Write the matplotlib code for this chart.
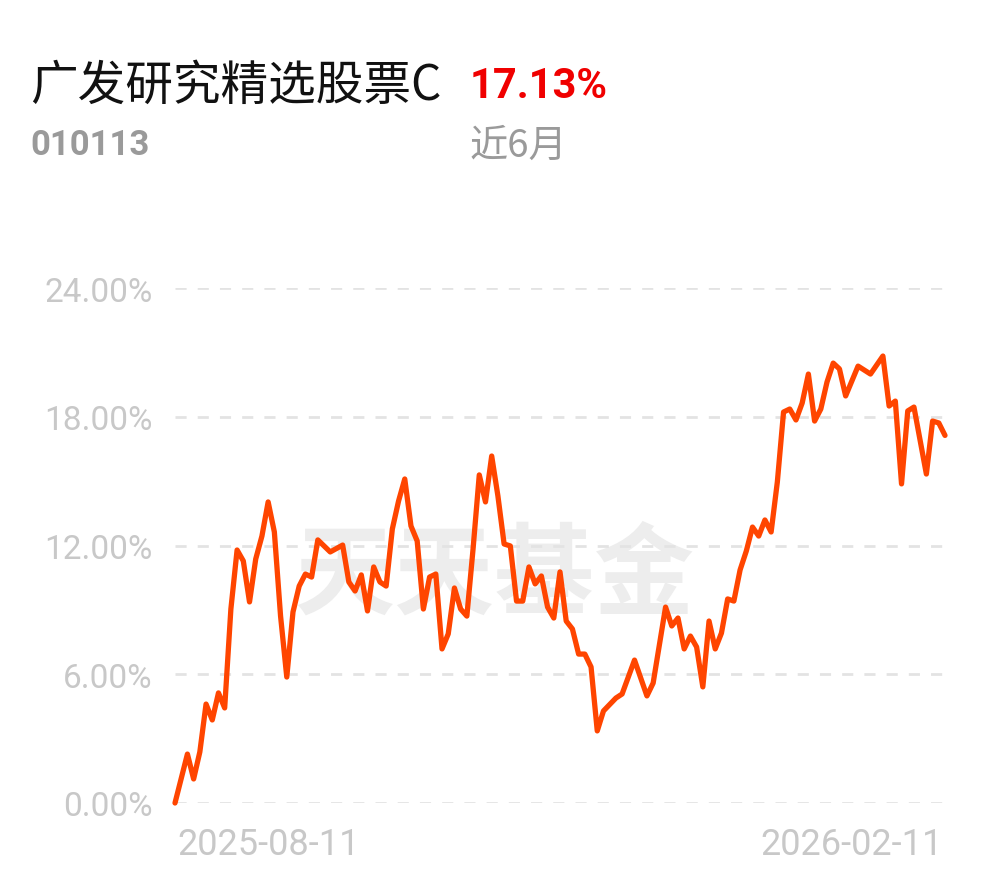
import matplotlib
matplotlib.use("Agg")
import matplotlib.pyplot as plt

# ---- data ----
fund_name = "广发研究精选股票C"
fund_code = "010113"
period_label = "近6月"
period_return = "17.13%"
x_labels = ["2025-08-11", "2026-02-11"]
y_ticks = [0, 6, 12, 18, 24]
y_tick_labels = ["0.00%", "6.00%", "12.00%", "18.00%", "24.00%"]

# trading-day offsets from 2025-08-11 and cumulative return (%)
day_index = [0, 2, 3, 4, 5, 6, 7, 8, 9, 10, 11, 12, 13, 14, 15, 16, 17, 18, 19, 20,
             21, 22, 23, 25, 27, 28, 29, 30, 31, 32, 33, 34, 35, 36, 37, 38, 39, 40, 41, 42,
             43, 44, 45, 46, 47, 48, 49, 50, 51, 52, 53, 54, 55, 56, 57, 58, 59, 60, 61, 62,
             63, 64, 65, 66, 67, 68, 69, 71, 72, 74, 76, 77, 79, 80, 81, 82, 83, 84, 85, 86,
             87, 88, 89, 90, 91, 92, 93, 94, 95, 96, 97, 98, 99, 100, 101, 102, 103, 104, 105, 106,
             107, 108, 110, 112, 114, 115, 116, 117, 118, 119, 121, 122, 123, 124]
returns = [0.00, 2.28, 1.12, 2.38, 4.61, 3.87, 5.13, 4.43, 9.04, 11.79, 11.28, 9.37, 11.37, 12.44, 14.03, 12.63, 8.71, 5.87, 8.90, 10.11,
           10.67, 10.53, 12.26, 11.70, 12.02, 10.30, 9.88, 10.63, 8.95, 11.00, 10.30, 10.11, 12.77, 14.07, 15.10, 12.91, 12.21, 9.04, 10.53, 10.67,
           7.18, 7.88, 10.02, 9.04, 8.71, 11.84, 15.29, 14.03, 16.17, 14.31, 12.07, 11.98, 9.41, 9.41, 11.00, 10.21, 10.58, 9.13, 8.62, 10.77,
           8.48, 8.11, 6.94, 6.94, 6.34, 3.36, 4.29, 4.89, 5.08, 6.66, 4.99, 5.59, 9.13, 8.25, 8.62, 7.18, 7.78, 7.27, 5.41, 8.48,
           7.18, 7.92, 9.51, 9.41, 10.86, 11.74, 12.86, 12.44, 13.19, 12.63, 14.96, 18.22, 18.36, 17.85, 18.64, 19.99, 17.80, 18.36, 19.62, 20.50,
           20.23, 18.97, 20.36, 19.99, 20.83, 18.50, 18.73, 14.87, 18.27, 18.45, 15.33, 17.80, 17.71, 17.13]

# ---- figure ----
W, H, DPI = 990, 878, 100
fig = plt.figure(figsize=(W / DPI, H / DPI), dpi=DPI)
fig.patch.set_facecolor("white")

ax_left, ax_right = 175 / W, 945 / W
ax_bottom, ax_top = 1 - 804 / H, 1 - 289 / H
ax = fig.add_axes([ax_left, ax_bottom, ax_right - ax_left, ax_top - ax_bottom])
ax.set_facecolor("none")

cjk = ["Noto Sans CJK SC", "DejaVu Sans"]
num_font = ["Roboto", "DejaVu Sans"]

# watermark
ax.text(0.415, 0.44, "天天基金", transform=ax.transAxes, ha="center", va="center",
        fontsize=72, fontweight="bold", color="#ededed", family=cjk, zorder=0)

# grid
for t in y_ticks:
    ax.axhline(t, color="#e3e3e3", lw=2.0, ls=(0, (4, 4)), zorder=1)

ax.plot(day_index, returns, color="#ff4500", lw=3.8, solid_joinstyle="round",
        solid_capstyle="round", zorder=3, clip_on=False)

ax.set_xlim(0, day_index[-1])
ax.set_ylim(0, 24)
ax.set_yticks(y_ticks)
ax.set_yticklabels(y_tick_labels, family=num_font, fontsize=24, color="#c8c8c8")
ax.tick_params(axis="y", length=0, pad=16)
ax.set_xticks([])
for s in ax.spines.values():
    s.set_visible(False)

# x labels
xl_y = 1 - 845 / H
fig.text(177 / W, xl_y, x_labels[0], ha="left", va="center",
         family=num_font, fontsize=26, color="#c8c8c8")
fig.text(943 / W, xl_y, x_labels[1], ha="right", va="center",
         family=num_font, fontsize=26, color="#c8c8c8")

# header
fig.text(30 / W, 1 - 86 / H, fund_name, ha="left", va="center", fontsize=34.3,
         color="#111111", family=cjk)
fig.text(470 / W, 1 - 86 / H, period_return, ha="left", va="center", fontsize=30,
         fontweight="bold", color="#f00000", family=num_font)
fig.text(30 / W, 1 - 146 / H, fund_code, ha="left", va="center", fontsize=25,
         fontweight="bold", color="#9a9a9a", family=num_font)
fig.text(470 / W, 1 - 146 / H, period_label, ha="left", va="center", fontsize=27.5,
         color="#9a9a9a", family=cjk)

fig.savefig("out.png", dpi=DPI, facecolor="white")
